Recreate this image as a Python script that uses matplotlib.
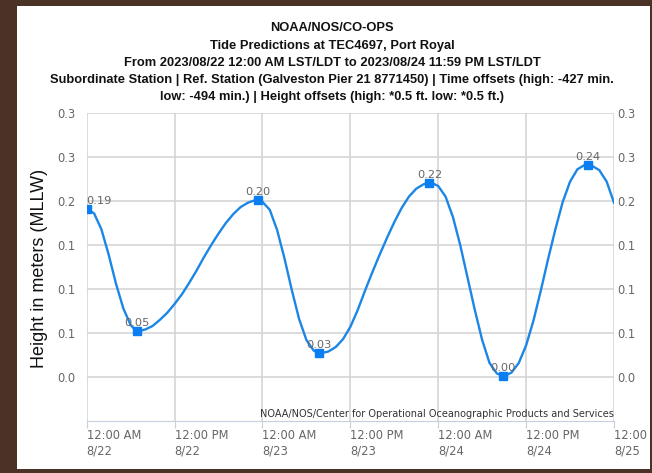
import matplotlib
matplotlib.use("Agg")
import matplotlib.pyplot as plt
from matplotlib.patches import Rectangle
from matplotlib.transforms import ScaledTranslation

# hourly tide heights (m, MLLW), 8/22 00:00 .. 8/25 00:00
hours = list(range(73))
height = [0.191, 0.186, 0.168, 0.139, 0.106, 0.078, 0.059, 0.052, 0.054, 0.058,
          0.065, 0.073, 0.083, 0.094, 0.107, 0.121, 0.136, 0.150, 0.163, 0.175,
          0.185, 0.193, 0.198, 0.201, 0.199, 0.190, 0.167, 0.135, 0.099, 0.066,
          0.042, 0.030, 0.027, 0.029, 0.034, 0.043, 0.057, 0.076, 0.098, 0.119,
          0.139, 0.158, 0.176, 0.192, 0.205, 0.214, 0.219, 0.221, 0.217, 0.205,
          0.182, 0.150, 0.113, 0.076, 0.042, 0.016, 0.004, 0.001, 0.005, 0.016,
          0.036, 0.064, 0.098, 0.134, 0.168, 0.199, 0.222, 0.236, 0.241, 0.240,
          0.235, 0.222, 0.198]

# high / low markers
hilo_hours = [0, 6.8, 23.4, 31.7, 46.8, 56.9, 68.4]
hilo_height = [0.191, 0.052, 0.201, 0.027, 0.221, 0.001, 0.241]

xtick_hours = [0, 12, 24, 36, 48, 60, 72]
xtick_labels = ["12:00 AM\n8/22", "12:00 PM\n8/22", "12:00 AM\n8/23", "12:00 PM\n8/23",
                "12:00 AM\n8/24", "12:00 PM\n8/24", "12:00 AM\n8/25"]
ytick_values = [0.00, 0.05, 0.10, 0.15, 0.20, 0.25, 0.30]
ytick_labels = ["0.0", "0.1", "0.1", "0.1", "0.2", "0.3", "0.3"]

title_lines = [
    "NOAA/NOS/CO-OPS",
    "Tide Predictions at TEC4697, Port Royal",
    "From 2023/08/22 12:00 AM LST/LDT to 2023/08/24 11:59 PM LST/LDT",
    "Subordinate Station | Ref. Station (Galveston Pier 21 8771450) | Time offsets (high: -427 min.",
    "low: -494 min.) | Height offsets (high: *0.5 ft. low: *0.5 ft.)",
]
credit = "NOAA/NOS/Center for Operational Oceanographic Products and Services"

W, H = 652, 473
fig = plt.figure(figsize=(W / 100, H / 100), dpi=100)
fig.patch.set_facecolor("#4a3326")
panel = Rectangle((17 / W, 1 - 469 / H), (650 - 17) / W, (469 - 6) / H,
                  transform=fig.transFigure, facecolor="white", edgecolor="none", zorder=0)
fig.add_artist(panel)

ax = fig.add_axes([86.7 / W, 1 - 421 / H, (614 - 86.7) / W, (421 - 113) / H])
ax.set_facecolor("white")

# line through hourly values plus the extremes
pts = sorted(set(zip(hours, height)) | set(zip(hilo_hours, hilo_height)))
ax.plot([p[0] for p in pts], [p[1] for p in pts], color="#1c86e6", lw=1.7,
        solid_joinstyle="round", zorder=3)
ax.plot(hilo_hours, hilo_height, "s", color="#0a7ef2", ms=6, zorder=4)
for i, (t, v) in enumerate(zip(hilo_hours, hilo_height)):
    ax.annotate("%.2f" % v, (t, v), xytext=(0, 2), textcoords="offset points",
                ha="left" if i == 0 else "center", va="bottom",
                fontsize=8.2, color="#666666", zorder=5)

ax.set_xlim(0, 72)
ax.set_ylim(-0.05, 0.30)
ax.set_xticks(xtick_hours)
ax.set_xticklabels(xtick_labels, fontsize=8.3, color="#666666", ha="left", linespacing=1.25)
off = ScaledTranslation(4 / 100, 0, fig.dpi_scale_trans)
for lab in ax.get_xticklabels():
    lab.set_transform(lab.get_transform() + off)
    lab.set_clip_path(panel)
ax.set_yticks(ytick_values)
ax.set_yticklabels(ytick_labels, fontsize=8.3, color="#666666")
ax.tick_params(axis="x", length=5, color="#c8cfdc", pad=1)
ax.tick_params(axis="y", length=0, pad=8)
ax.grid(True, color="#d2d2d2", lw=1.1, zorder=0)
for s in ["top", "left", "right"]:
    ax.spines[s].set_visible(False)
ax.spines["bottom"].set_color("#c8cfdc")

ax2 = ax.twinx()
ax2.set_ylim(ax.get_ylim())
ax2.set_yticks(ytick_values)
ax2.set_yticklabels(ytick_labels, fontsize=8.3, color="#666666")
ax2.tick_params(axis="y", length=0, pad=2)
for s in ax2.spines.values():
    s.set_visible(False)

ax.text(1.0, 0.005, credit, transform=ax.transAxes, ha="right", va="bottom",
        fontsize=7, color="#333333")

ys = [28, 46, 63, 80, 97]
for line, y in zip(title_lines, ys):
    fig.text(332 / W, 1 - y / H, line, ha="center", va="center", fontsize=9.3,
             fontweight="bold", family="Liberation Sans", color="#111111")

fig.text(40 / W, 1 - 268 / H, "Height in meters (MLLW)", rotation=90, ha="center",
         va="center", fontsize=13, family="Liberation Sans", color="#111111")

fig.savefig("out.png", dpi=100, facecolor=fig.get_facecolor())
